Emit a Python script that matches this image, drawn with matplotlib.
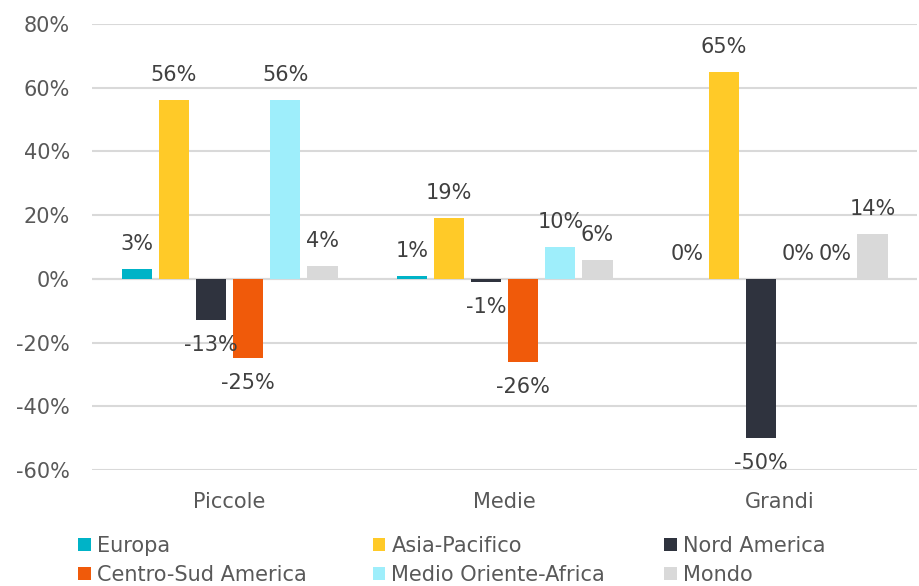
import matplotlib.pyplot as plt
import numpy as np

categories = ["Piccole", "Medie", "Grandi"]
series = ["Europa", "Asia-Pacifico", "Nord America",
          "Centro-Sud America", "Medio Oriente-Africa", "Mondo"]
europa = [3, 1, 0]
asia_pacifico = [56, 19, 65]
nord_america = [-13, -1, -50]
centro_sud_america = [-25, -26, 0]
medio_oriente_africa = [56, 10, 0]
mondo = [4, 6, 14]
colors = ["#00B3C7", "#FFCA28", "#2F333E", "#F05A0A", "#9EEEFB", "#D9D9D9"]

values = [europa, asia_pacifico, nord_america,
          centro_sud_america, medio_oriente_africa, mondo]

plt.rcParams['font.family'] = ['DejaVu Sans']
fig = plt.figure(figsize=(9.2, 5.86), dpi=100)
ax = fig.add_axes([0.1, 0.198, 0.897, 0.761])

x = np.arange(len(categories))
step = 0.135
width = 0.11
bars = []
for i, (name, vals, col) in enumerate(zip(series, values, colors)):
    pos = x + (i - 2.5) * step
    b = ax.bar(pos, vals, width=width, color=col, label=name, zorder=3)
    bars.append(b)
    for xp, v in zip(pos, vals):
        off = 18 if v >= 0 else -18
        ax.annotate(f"{v}%", (xp, v), xytext=(0, off), textcoords="offset points",
                    ha="center", va="center", fontsize=15, color="#404040", zorder=4)

ax.set_ylim(-60, 80)
ax.set_xlim(-0.5, 2.5)
ax.set_yticks(np.arange(-60, 81, 20))
ax.set_yticklabels([f"{t}%" for t in range(-60, 81, 20)])
ax.set_xticks(x)
ax.set_xticklabels(categories)
ax.tick_params(axis="y", length=0, pad=16, labelsize=15, labelcolor="#595959")
ax.tick_params(axis="x", length=0, pad=16, labelsize=15, labelcolor="#595959")
ax.grid(axis="y", color="#D9D9D9", linewidth=1.5, zorder=0)
ax.axhline(0, color="#D9D9D9", linewidth=1.5, zorder=2)
for s in ax.spines.values():
    s.set_visible(False)

# legend: three columns, two rows
handles = [b[0] for b in bars]
col_x = [0.085, 0.405, 0.722]
for c in range(3):
    hs = [handles[c], handles[c + 3]]
    ls = [series[c], series[c + 3]]
    leg = fig.legend(hs, ls, loc="upper left", bbox_to_anchor=(col_x[c], 0.086),
                     frameon=False, fontsize=15, handlelength=0.6, handleheight=0.6,
                     handletextpad=0.3, labelspacing=0.45, borderpad=0, borderaxespad=0)
    for t in leg.get_texts():
        t.set_color("#595959")

fig.savefig("out.png", dpi=100)
